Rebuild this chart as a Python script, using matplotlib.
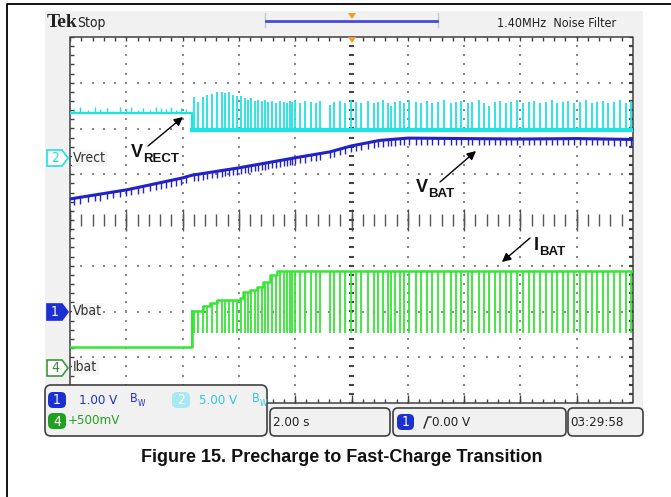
import matplotlib
matplotlib.use("Agg")
import matplotlib.pyplot as plt
from matplotlib.patches import Rectangle, FancyBboxPatch, Polygon
import numpy as np

W, H = 671, 497
SCOPE = dict(family=["DejaVu Sans"], stretch="condensed")
BOLD = ["Liberation Sans", "DejaVu Sans"]

# scope traces, time in divisions (2.00 s/div), amplitude in divisions
vbat_t = [0.0, 1.01, 2.0, 2.17, 3.0, 4.0, 4.62, 5.0, 5.5, 6.0, 7.0, 8.0, 9.0, 10.0]
vbat_v = [0.46, 0.66, 0.92, 0.98, 1.14, 1.36, 1.49, 1.62, 1.74, 1.79, 1.78, 1.77, 1.78, 1.76]

vrect_t = [0.0, 2.17, 2.17, 10.0]
vrect_v = [2.34, 2.34, 1.97, 1.97]
vrect_pre_t = [0.07, 0.18, 0.32, 0.44, 0.53, 0.66, 0.76, 0.89, 0.99, 1.08,
               1.21, 1.30, 1.42, 1.53, 1.62, 1.71, 1.79, 1.88, 1.97, 2.06]
vrect_pre_h = [0.08, 0.12, 0.06, 0.14, 0.08, 0.10, 0.05, 0.12, 0.09, 0.13,
               0.07, 0.11, 0.06, 0.14, 0.10, 0.08, 0.12, 0.06, 0.11, 0.09]

# charge pulses after the precharge -> fast-charge transition
pulse_t = [2.20, 2.27, 2.36, 2.43, 2.52, 2.61, 2.70, 2.75, 2.82, 2.90,
           2.97, 3.04, 3.11, 3.16, 3.21, 3.29, 3.34, 3.41, 3.46, 3.52,
           3.59, 3.66, 3.73, 3.80, 3.85, 3.91, 3.94, 4.00, 4.09, 4.17,
           4.28, 4.37, 4.44, 4.62, 4.69, 4.80, 4.88, 4.99, 5.08, 5.17,
           5.29, 5.40, 5.47, 5.56, 5.65, 5.70, 5.77, 5.86, 5.93, 6.02,
           6.15, 6.23, 6.34, 6.43, 6.54, 6.64, 6.77, 6.86, 6.94, 7.07,
           7.14, 7.26, 7.35, 7.44, 7.55, 7.64, 7.74, 7.83, 7.94, 8.05,
           8.15, 8.24, 8.35, 8.45, 8.56, 8.65, 8.76, 8.85, 8.95, 9.06,
           9.17, 9.27, 9.36, 9.47, 9.56, 9.66, 9.77, 9.88, 9.96]
vrect_peak = [2.69, 2.58, 2.69, 2.73, 2.76, 2.80, 2.80, 2.78, 2.80, 2.74,
              2.72, 2.70, 2.66, 2.62, 2.66, 2.60, 2.63, 2.60, 2.62, 2.58,
              2.60, 2.56, 2.60, 2.58, 2.55, 2.60, 2.58, 2.62, 2.56, 2.60,
              2.58, 2.55, 2.60, 2.52, 2.58, 2.60, 2.55, 2.62, 2.58, 2.56,
              2.60, 2.55, 2.58, 2.62, 2.56, 2.50, 2.58, 2.60, 2.55, 2.62,
              2.58, 2.56, 2.60, 2.55, 2.58, 2.62, 2.56, 2.58, 2.60, 2.55,
              2.58, 2.62, 2.56, 2.50, 2.58, 2.60, 2.55, 2.58, 2.62, 2.56,
              2.58, 2.60, 2.55, 2.58, 2.62, 2.56, 2.58, 2.60, 2.55, 2.58,
              2.62, 2.56, 2.58, 2.60, 2.55, 2.58, 2.62, 2.56, 2.60]

ibat_t = [0.0, 2.17, 2.36, 2.49, 2.61, 3.02, 3.07, 3.20, 3.32, 3.43, 3.55, 3.68, 10.0]
ibat_v = [-2.78, -1.99, -1.88, -1.81, -1.75, -1.70, -1.57, -1.53, -1.46, -1.36, -1.20, -1.11, -1.11]
ibat_low = -2.47

CYAN, BLUE, GREEN = "#1ee3e3", "#2222c8", "#36e636"

fig = plt.figure(figsize=(W / 100, H / 100), dpi=100)

# background: scope screen and page frame
bg = fig.add_axes([0, 0, 1, 1], zorder=0)
bg.set_xlim(0, W); bg.set_ylim(H, 0); bg.axis("off")
bg.add_patch(Rectangle((45, 11), 598, 425, facecolor="#f1f1f1", edgecolor="none"))
bg.plot([7, 7, W], [H, 4, 4], color="k", lw=1.3)

# graticule
ax = fig.add_axes([70 / W, (H - 403) / H, 563 / W, 366 / H], zorder=1)
ax.set_xlim(0, 10); ax.set_ylim(-4, 4); ax.axis("off")
ax.add_patch(Rectangle((0, -4), 10, 8, facecolor="white", edgecolor="none", zorder=0))

gc = "#8a8a8a"
mx = np.arange(0, 10.001, 0.2)
my = np.arange(-4, 4.001, 0.2)
for gy in [-3, -2, -1, 1, 2, 3]:
    ax.scatter(mx, np.full_like(mx, gy), s=2.5, c=gc, marker="s", linewidths=0, zorder=1)
for gx in [1, 2, 3, 4, 6, 7, 8, 9]:
    ax.scatter(np.full_like(my, gx), my, s=2.5, c=gc, marker="s", linewidths=0, zorder=1)
major_x = np.arange(0, 10.001, 1.0)
ax.vlines(mx, -0.13, 0.13, color="#555555", lw=1, zorder=1)
ax.vlines(major_x, -0.25, 0.25, color="#555555", lw=1, zorder=1)
ax.hlines(my, 4.95, 5.05, color="#444444", lw=1.5, zorder=1)

ec = "#404040"
ax.plot([0, 10, 10, 0, 0], [-4, -4, 4, 4, -4], color=ec, lw=1.1, clip_on=False, zorder=2)
ax.vlines(mx, 4 - 0.09, 4, color=ec, lw=1, zorder=2)
ax.vlines(mx, -4, -4 + 0.09, color=ec, lw=1, zorder=2)
ax.vlines(major_x, -4, -4 + 0.18, color=ec, lw=1, zorder=2)
ax.hlines(my, 0, 0.07, color=ec, lw=1, zorder=2)
ax.hlines(my, 10 - 0.07, 10, color=ec, lw=1.6, zorder=2)

# traces
ax.plot(vrect_t, vrect_v, color=CYAN, lw=1.6, zorder=3)
ax.plot([2.17, 10], [1.97, 1.97], color=CYAN, lw=3, zorder=3)
ax.vlines(vrect_pre_t, 2.34, np.add(2.34, vrect_pre_h), color=CYAN, lw=1, zorder=3)
ax.vlines(pulse_t, 1.97, vrect_peak, color=CYAN, lw=1.3, zorder=3)

spike_t = pulse_t + vrect_pre_t
vb_at_spike = np.interp(spike_t, vbat_t, vbat_v)
ax.plot(vbat_t, vbat_v, color=BLUE, lw=2.2, zorder=4)
ax.vlines(spike_t, vb_at_spike - 0.14, vb_at_spike, color=BLUE, lw=1, zorder=4)

ax.step(ibat_t, ibat_v, where="post", color=GREEN, lw=1.8, zorder=3)
ax.plot([2.17, 2.17], [ibat_v[0], ibat_v[1]], color=GREEN, lw=1.5, zorder=3)
idx = np.searchsorted(ibat_t, pulse_t, side="right") - 1
ax.vlines(pulse_t, ibat_low, np.array(ibat_v)[idx], color=GREEN, lw=1.3, zorder=3)

# overlay: labels, readouts, annotations
ov = fig.add_axes([0, 0, 1, 1], zorder=2)
ov.set_xlim(0, W); ov.set_ylim(H, 0); ov.axis("off")
ov.patch.set_visible(False)

ov.text(47, 27, "Tek", family=["Liberation Serif", "DejaVu Serif"], weight="bold",
        fontsize=14, color="#222222", va="baseline")
ov.text(77, 27, "Stop", fontsize=10, color="#222222", va="baseline", **SCOPE)
ov.plot([265, 265], [13, 27], color="#c8c8c8", lw=1)
ov.plot([438, 438], [13, 27], color="#c8c8c8", lw=1)
ov.plot([266, 437], [20.5, 20.5], color="#4a4ad8", lw=2)
ov.add_patch(Polygon([(348, 13), (356, 13), (352, 19)], closed=True, fc="#f0a020", ec="none"))
ov.add_patch(Polygon([(348, 37), (356, 37), (352, 43)], closed=True, fc="#f0a020", ec="none"))
ov.text(497, 27, "1.40MHz  Noise Filter", fontsize=9, color="#222222", va="baseline", **SCOPE)

# channel markers
def marker(yc, num, face, edge, tc):
    ov.add_patch(Polygon([(47, yc - 8), (62, yc - 8), (68, yc), (62, yc + 8), (47, yc + 8)],
                         closed=True, fc=face, ec=edge, lw=1.2))
    ov.text(55, yc + 0.5, num, fontsize=10, color=tc, ha="center", va="center", **SCOPE)

marker(158, "2", "white", CYAN, CYAN)
marker(312, "1", "#1c2fd0", "#1c2fd0", "white")
marker(368, "4", "white", "#3a9a3a", "#3a8a3a")
for yc, lab in [(158, "Vrect"), (311, "Vbat"), (367, "Ibat")]:
    ov.text(73, yc, lab, fontsize=10, color="#333333", va="center",
            bbox=dict(boxstyle="square,pad=0.1", fc="#f6f6f6", ec="none"), **SCOPE)

# annotations
arr = dict(arrowstyle="-|>", color="k", lw=1, mutation_scale=13, shrinkA=0, shrinkB=0)
ov.annotate("", xy=(183, 117), xytext=(148, 146), arrowprops=arr)
ov.annotate("", xy=(476, 151), xytext=(440, 182), arrowprops=arr)
ov.annotate("", xy=(502, 262), xytext=(530, 238), arrowprops=arr)
for x0, y0, big, sub in [(131, 157, "V", "RECT"), (416, 192, "V", "BAT"), (534, 250, "I", "BAT")]:
    ov.text(x0, y0, big, family=BOLD, weight="bold", fontsize=13, color="#111111", va="baseline")
    dx = 12 if big == "V" else 5
    ov.text(x0 + dx, y0 + 5, sub, family=BOLD, weight="bold", fontsize=9.5, color="#111111", va="baseline")

# bottom readout panel
def rbox(x, y, w, h, fc, ec_, r=5, lw=1.2):
    ov.add_patch(FancyBboxPatch((x, y), w, h, boxstyle=f"round,pad=0,rounding_size={r}",
                                fc=fc, ec=ec_, lw=lw))

rbox(45, 385, 222, 51, "#f1f1f1", "#404040", r=6)
rbox(48, 392, 18, 16, "#1c2fd0", "none", r=5)
ov.text(57, 400.5, "1", fontsize=10, color="white", ha="center", va="center", **SCOPE)
ov.text(79, 400, "1.00 V", fontsize=9.5, color="#2030c8", va="center", **SCOPE)
ov.text(130, 399, "B", fontsize=9, color="#2030c8", va="center", **SCOPE)
ov.text(137.5, 404, "W", fontsize=6, color="#2030c8", va="center", **SCOPE)
rbox(172, 392, 18, 16, "#a8e8f0", "none", r=5)
ov.text(181, 400.5, "2", fontsize=10, color="white", ha="center", va="center", **SCOPE)
ov.text(199, 400, "5.00 V", fontsize=9.5, color="#30c8d8", va="center", **SCOPE)
ov.text(252, 399, "B", fontsize=9, color="#30c8d8", va="center", **SCOPE)
ov.text(259.5, 404, "W", fontsize=6, color="#30c8d8", va="center", **SCOPE)
rbox(48, 413, 18, 16, "#22a022", "none", r=5)
ov.text(57, 421.5, "4", fontsize=10, color="white", ha="center", va="center", **SCOPE)
ov.text(68, 421, "+500mV", fontsize=9.5, color="#22a022", va="center", **SCOPE)

rbox(270, 408, 120, 28, "#f1f1f1", "#404040")
ov.text(273, 422, "2.00 s", fontsize=9.5, color="#222222", va="center", **SCOPE)
rbox(393, 408, 173, 28, "#f1f1f1", "#404040")
rbox(397, 414, 17, 16, "#1c2fd0", "none", r=5)
ov.text(405.5, 422.5, "1", fontsize=10, color="white", ha="center", va="center", **SCOPE)
ov.plot([424, 428, 431], [428, 417, 417], color="#222222", lw=1)
ov.text(432, 422, "0.00 V", fontsize=9.5, color="#222222", va="center", **SCOPE)
rbox(568, 408, 75, 28, "#f1f1f1", "#404040")
ov.text(570, 422, "03:29:58", fontsize=9.5, color="#222222", va="center", **SCOPE)

ov.text(342, 458, "Figure 15. Precharge to Fast-Charge Transition", family=BOLD, weight="bold",
        fontsize=13, color="#111111", ha="center", va="center")

fig.savefig("out.png", dpi=100)
